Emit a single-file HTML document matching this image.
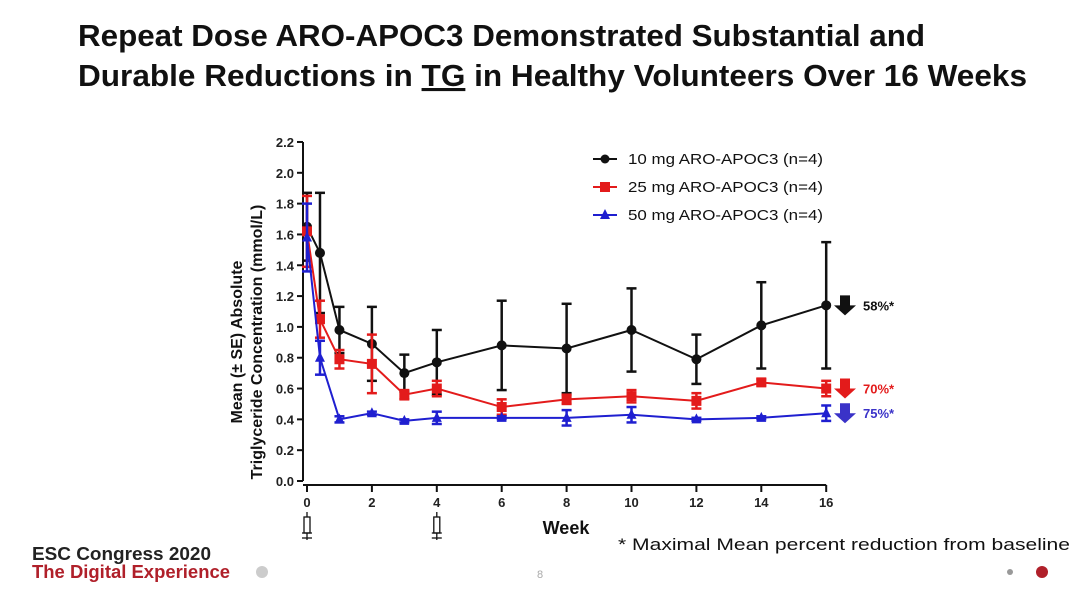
<!DOCTYPE html>
<html><head><meta charset="utf-8"><style>
body{margin:0;width:1080px;height:594px;background:#fff;overflow:hidden;font-family:"Liberation Sans",sans-serif}
svg{position:absolute;left:0;top:0}
</style></head><body>
<svg width="1080" height="594">
<rect x="0" y="0" width="1080" height="594" fill="#fff"/>
<text x="78" y="46" font-size="31" font-weight="bold" fill="#111" textLength="847" lengthAdjust="spacingAndGlyphs">Repeat Dose ARO-APOC3 Demonstrated Substantial and</text>
<text x="78" y="86" font-size="31" font-weight="bold" fill="#111" textLength="949" lengthAdjust="spacingAndGlyphs">Durable Reductions in <tspan text-decoration="underline">TG</tspan> in Healthy Volunteers Over 16 Weeks</text>
<g id="plot"></g>
<text x="32" y="560" font-size="18" font-weight="bold" fill="#222" textLength="179" lengthAdjust="spacingAndGlyphs">ESC Congress 2020</text>
<text x="32" y="578" font-size="18" font-weight="bold" fill="#b0202a" textLength="198" lengthAdjust="spacingAndGlyphs">The Digital Experience</text>
<circle cx="262" cy="572" r="6" fill="#ccc"/>
<text x="537" y="578" font-size="11" fill="#aaa">8</text>
<circle cx="1010" cy="572" r="3" fill="#999"/>
<circle cx="1042" cy="572" r="6" fill="#b0202a"/>
<text x="618" y="550" font-size="17" fill="#111" textLength="452" lengthAdjust="spacingAndGlyphs">* Maximal Mean percent reduction from baseline</text>
</svg>
<script>
const weeks=[0,0.4,1,2,3,4,6,8,10,12,14,16];
const blackVals=[1.65,1.48,0.98,0.89,0.70,0.77,0.88,0.86,0.98,0.79,1.01,1.14];
const blackSE=[0.22,0.39,0.15,0.24,0.12,0.21,0.29,0.29,0.27,0.16,0.28,0.41];
const redVals=[1.62,1.05,0.79,0.76,0.56,0.60,0.48,0.53,0.55,0.52,0.64,0.60];
const redSE=[0.23,0.12,0.06,0.19,0.03,0.05,0.05,0.03,0.04,0.05,0.02,0.05];
const blueVals=[1.58,0.80,0.40,0.44,0.39,0.41,0.41,0.41,0.43,0.40,0.41,0.44];
const blueSE=[0.22,0.11,0.02,0.01,0.01,0.04,0.01,0.05,0.05,0.01,0.01,0.05];
const yTicks=[0,0.2,0.4,0.6,0.8,1.0,1.2,1.4,1.6,1.8,2.0,2.2];
const xTicks=[0,2,4,6,8,10,12,14,16];
const legendLabels=["10 mg ARO-APOC3 (n=4)","25 mg ARO-APOC3 (n=4)","50 mg ARO-APOC3 (n=4)"];
const pctLabels=["58%*","70%*","75%*"];
const NS="http://www.w3.org/2000/svg";
const X=w=>307+w*32.45, Y=v=>481-v*154.1;
const g=document.getElementById('plot');
function el(t,a,p){const e=document.createElementNS(NS,t);for(const k in a)e.setAttribute(k,a[k]);(p||g).appendChild(e);return e;}
let ax=el('line',{x1:303,y1:Y(2.2),x2:303,y2:Y(0),stroke:'#111','stroke-width':2});


let xx=el('line',{x1:303,y1:485,x2:X(16),y2:485,stroke:'#111','stroke-width':2});


yTicks.forEach(v=>{el('line',{x1:297,y1:Y(v),x2:303,y2:Y(v),stroke:'#111','stroke-width':2});
 const t=el('text',{x:294,y:Y(v)+5,'text-anchor':'end','font-size':13,'font-weight':'bold',fill:'#222'});t.textContent=v.toFixed(1);
 
 });
xTicks.forEach(w=>{el('line',{x1:X(w),y1:485,x2:X(w),y2:492,stroke:'#111','stroke-width':2});
 const t=el('text',{x:X(w),y:507,'text-anchor':'middle','font-size':13,'font-weight':'bold',fill:'#222'});t.textContent=w;
 
 });
let xt=el('text',{x:566,y:534,'text-anchor':'middle','font-size':18,'font-weight':'bold',fill:'#111'});xt.textContent='Week';


let yt=el('text',{transform:'translate(242,342) rotate(-90)','text-anchor':'middle','font-size':16,'font-weight':'bold',fill:'#111'});
yt.innerHTML='<tspan x="0" dy="0">Mean (± SE) Absolute</tspan><tspan x="0" dy="20">Triglyceride Concentration  (mmol/L)</tspan>';


[0,4].forEach(w=>{const s=el('g',{stroke:'#111','stroke-width':1.3,fill:'none'});
 
 
 el('line',{x1:X(w),y1:512,x2:X(w),y2:517},s);el('rect',{x:X(w)-3,y:517,width:6,height:16},s);
 el('line',{x1:X(w)-5,y1:533,x2:X(w)+5,y2:533},s);el('line',{x1:X(w)-5,y1:538,x2:X(w)+5,y2:538},s);el('line',{x1:X(w),y1:533,x2:X(w),y2:540},s);});
const series=[[blackVals,blackSE,'#111','circle'],[redVals,redSE,'#e31b1b','square'],[blueVals,blueSE,'#1f1fd0','tri']];
series.forEach(([vals,se,c,m],si)=>{
 const sg=el('g',{});
 
 
 vals.forEach((v,i)=>{const x=X(weeks[i]);
  el('line',{x1:x,y1:Y(v-se[i]),x2:x,y2:Y(v+se[i]),stroke:c,'stroke-width':2.5},sg);
  el('line',{x1:x-5,y1:Y(v-se[i]),x2:x+5,y2:Y(v-se[i]),stroke:c,'stroke-width':2.5},sg);
  el('line',{x1:x-5,y1:Y(v+se[i]),x2:x+5,y2:Y(v+se[i]),stroke:c,'stroke-width':2.5},sg);});
 el('polyline',{points:vals.map((v,i)=>X(weeks[i])+','+Y(v)).join(' '),fill:'none',stroke:c,'stroke-width':2},sg);
 vals.forEach((v,i)=>{const x=X(weeks[i]),y=Y(v);
  if(m=='circle')el('circle',{cx:x,cy:y,r:5,fill:c},sg);
  else if(m=='square')el('rect',{x:x-5,y:y-5,width:10,height:10,fill:c},sg);
  else el('polygon',{points:`${x},${y-6} ${x-5},${y+4} ${x+5},${y+4}`,fill:c},sg);});
 const ly=159+si*28;
 const lg=el('g',{});
 
 
 el('line',{x1:593,y1:ly,x2:617,y2:ly,stroke:c,'stroke-width':2},lg);
 if(m=='circle')el('circle',{cx:605,cy:ly,r:4.5,fill:c},lg);
 else if(m=='square')el('rect',{x:600,y:ly-5,width:10,height:10,fill:c},lg);
 else el('polygon',{points:`605,${ly-6} 600,${ly+4} 610,${ly+4}`,fill:c},lg);
 const lt=el('text',{x:628,y:ly+5,'font-size':15,fill:'#111',textLength:195,lengthAdjust:'spacingAndGlyphs'},lg);lt.textContent=legendLabels[si];
 const ay=Y(vals[vals.length-1]);
 const ag=el('g',{});
 
 
 const ac=si==2?'#3a32c8':c;
 el('polygon',{points:`840,${ay-10} 850,${ay-10} 850,${ay} 856,${ay} 845,${ay+10} 834,${ay} 840,${ay}`,fill:ac},ag);
 const pt=el('text',{x:863,y:ay+5,'font-size':13,'font-weight':'bold',fill:ac},ag);pt.textContent=pctLabels[si];
});
</script>
</body></html>
